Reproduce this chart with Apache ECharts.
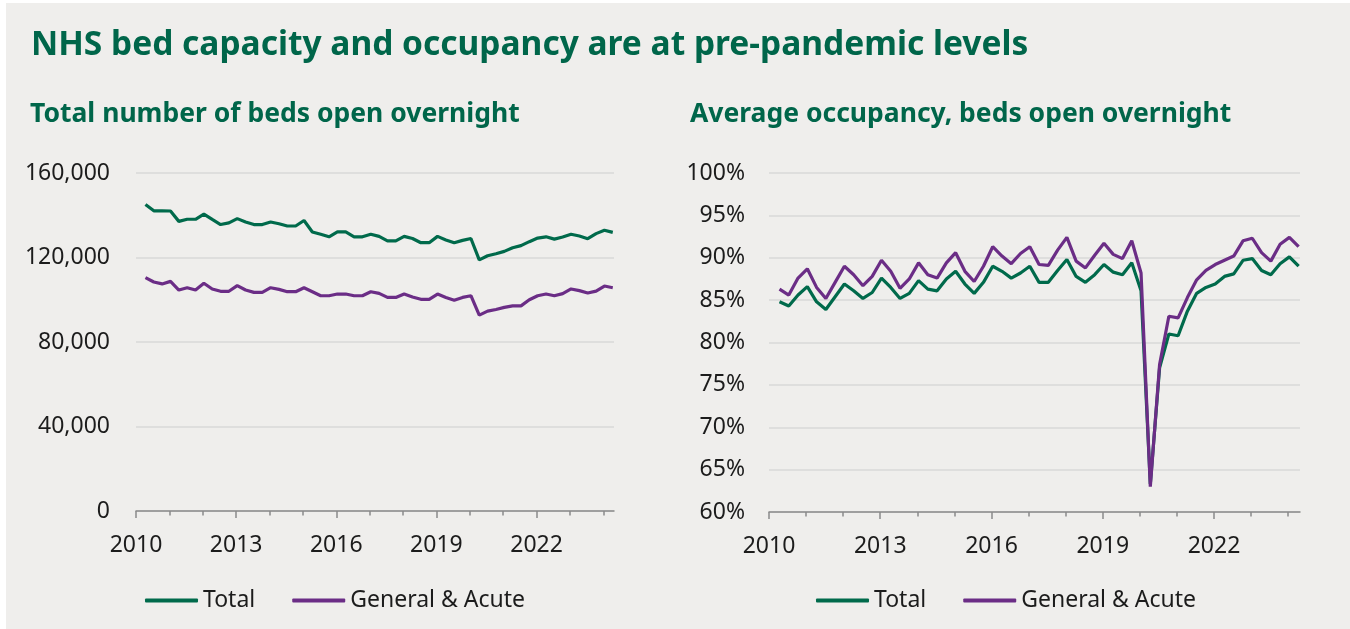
<!DOCTYPE html>
<html>
<head>
<meta charset="utf-8">
<script src="https://cdn.jsdelivr.net/npm/echarts@6/dist/echarts.min.js"></script>
<style>
  html, body { margin: 0; padding: 0; background: #ffffff; }
  #chart { width: 1350px; height: 629px; }
</style>
</head>
<body>
<div id="chart"></div>
<script>
// quarterly periods (start month of each NHS quarter), Apr 2010 .. Apr 2024
const periods = []
for (let y = 2010; y <= 2024; y++) {
    ['04', '07', '10'].forEach(m => periods.push(y + '-' + m))
    if (y < 2024) periods.push((y + 1) + '-01')
}
periods.sort()
while (periods.length > 57) periods.pop()

// total number of beds open overnight
const bedsTotal = [145100, 142100, 142100, 142000, 137100, 138100, 138100, 140500, 138000, 135600,
    136400, 138400, 136800, 135600, 135600, 136800, 136000, 134900, 134900, 137500,
    132100, 131000, 129800, 132100, 132100, 129800, 129800, 131000, 130000, 127900,
    127900, 130000, 129000, 127000, 127000, 130000, 128300, 127000, 128100, 129000,
    118900, 120800, 121800, 122900, 124600, 125600, 127500, 129200, 129800, 128700,
    129700, 131000, 130200, 128900, 131300, 132900, 131900]
const bedsGA = [110500, 108400, 107500, 108700, 104600, 105700, 104600, 107800, 105100, 104000,
    104000, 106700, 104600, 103500, 103500, 105700, 104900, 103800, 103800, 105700,
    103800, 101900, 101900, 102700, 102700, 101900, 101900, 103800, 103000, 101100,
    101100, 102700, 101300, 100200, 100200, 102700, 101100, 99800, 101100, 101900,
    92700, 94600, 95400, 96400, 97100, 97100, 100000, 101900, 102700, 101900,
    102900, 105100, 104300, 103200, 104100, 106500, 105700]

// average occupancy (%)
const occTotal = [84.8, 84.3, 85.6, 86.6, 84.8, 83.9, 85.4, 86.9, 86.1, 85.2,
    85.9, 87.6, 86.5, 85.2, 85.8, 87.3, 86.3, 86.1, 87.5, 88.4,
    86.9, 85.8, 87.1, 89.0, 88.4, 87.6, 88.2, 89.0, 87.1, 87.1,
    88.5, 89.8, 87.8, 87.1, 88.0, 89.2, 88.3, 88.0, 89.4, 86.1,
    63.3, 77.0, 81.0, 80.8, 83.7, 85.8, 86.5, 86.9, 87.8, 88.1,
    89.7, 89.9, 88.5, 88.0, 89.3, 90.1, 89.0]
const occGA = [86.3, 85.6, 87.6, 88.7, 86.5, 85.2, 87.1, 89.0, 88.0, 86.7,
    87.8, 89.7, 88.4, 86.4, 87.5, 89.4, 88.0, 87.6, 89.4, 90.6,
    88.4, 87.2, 89.0, 91.3, 90.2, 89.3, 90.5, 91.3, 89.2, 89.1,
    90.9, 92.4, 89.6, 88.8, 90.3, 91.7, 90.4, 89.9, 92.0, 88.2,
    63.0, 77.4, 83.1, 82.9, 85.3, 87.4, 88.5, 89.2, 89.7, 90.2,
    92.0, 92.3, 90.6, 89.6, 91.6, 92.4, 91.3]

const yearLabels = [2010, 2013, 2016, 2019, 2022]
const yearTicks = [2010, 2011, 2012, 2013, 2014, 2015, 2016, 2017, 2018, 2019, 2020, 2021, 2022, 2023, 2024]
const bedsTicks = [0, 40000, 80000, 120000, 160000]
const occTicks = [60, 65, 70, 75, 80, 85, 90, 95, 100]

const GREEN = '#006a4b'
const PURPLE = '#6b2d86'
const TITLE = '#00664a'
const TEXT = '#1c1c1c'
const FONT = '"Noto Sans", "Open Sans", sans-serif'
const FS = 23

function xPos(p) {
    const [y, m] = p.split('-').map(Number)
    return y + (m - 1 + 0.4) / 12
}
function pairs(vals) {
    return vals.map((v, i) => [xPos(periods[i]), v])
}

function mainX(gridIndex) {
    return {
        type: 'value', gridIndex: gridIndex, position: 'bottom',
        min: 2010, max: 2024.32,
        axisLine: { show: true, lineStyle: { color: '#8a8a8a', width: 1.5 } },
        axisTick: { show: true, customValues: yearLabels, length: 7, lineStyle: { color: '#8a8a8a', width: 1.5 } },
        axisLabel: { customValues: yearLabels, color: TEXT, fontSize: FS, fontFamily: FONT, margin: 23, formatter: v => String(v) },
        splitLine: { show: false }
    }
}
function minorX(gridIndex) {
    return {
        type: 'value', gridIndex: gridIndex, position: 'bottom',
        min: 2010, max: 2024.32,
        axisLine: { show: false },
        axisTick: { show: true, customValues: yearTicks, length: 4.5, lineStyle: { color: '#8a8a8a', width: 1.5 } },
        axisLabel: { show: false },
        splitLine: { show: false }
    }
}

const chart = echarts.init(document.getElementById('chart'))
chart.setOption({
    backgroundColor: '#ffffff',
    animation: false,
    graphic: [{
        type: 'rect', z: -10, silent: true,
        shape: { x: 6, y: 3, width: 1344, height: 626 },
        style: { fill: '#efeeec' }
    }],
    title: [
        { text: 'NHS bed capacity and occupancy are at pre-pandemic levels', left: 31, top: 27, padding: 0,
          textStyle: { color: TITLE, fontSize: 33.5, fontWeight: 'bold', fontFamily: FONT, lineHeight: 36 } },
        { text: 'Total number of beds open overnight', left: 30, top: 99, padding: 0,
          textStyle: { color: TITLE, fontSize: 26.5, fontWeight: 'bold', fontFamily: FONT, lineHeight: 30 } },
        { text: 'Average occupancy, beds open overnight', left: 690, top: 99, padding: 0,
          textStyle: { color: TITLE, fontSize: 26.5, fontWeight: 'bold', fontFamily: FONT, lineHeight: 30 } }
    ],
    legend: [
        { left: 145, top: 589, padding: 0, itemWidth: 53, itemHeight: 4, itemGap: 37, icon: 'roundRect',
          data: ['Total', 'General & Acute'], selectedMode: false,
          textStyle: { color: TEXT, fontSize: FS, fontFamily: FONT, padding: [0, 0, 0, 0] } },
        { left: 816, top: 589, padding: 0, itemWidth: 53, itemHeight: 4, itemGap: 37, icon: 'roundRect',
          data: ['Total', 'General & Acute'], selectedMode: false,
          textStyle: { color: TEXT, fontSize: FS, fontFamily: FONT, padding: [0, 0, 0, 0] } }
    ],
    grid: [
        { left: 136, top: 173, width: 478, height: 338 },
        { left: 769, top: 173, width: 531, height: 339 }
    ],
    xAxis: [mainX(0), minorX(0), mainX(1), minorX(1)],
    yAxis: [
        {
            type: 'value', gridIndex: 0, min: 0, max: 160000, interval: 40000,
            axisLine: { show: false }, axisTick: { show: false },
            axisLabel: { customValues: bedsTicks, color: TEXT, fontSize: FS, fontFamily: FONT, margin: 26,
                formatter: v => v.toLocaleString('en-GB') },
            splitLine: { lineStyle: { color: '#d9d9d9', width: 1.5 } }
        },
        {
            type: 'value', gridIndex: 1, min: 60, max: 100, interval: 5,
            axisLine: { show: false }, axisTick: { show: false },
            axisLabel: { customValues: occTicks, color: TEXT, fontSize: FS, fontFamily: FONT, margin: 24,
                formatter: v => v + '%' },
            splitLine: { lineStyle: { color: '#d9d9d9', width: 1.5 } }
        }
    ],
    series: [
        { name: 'Total', type: 'line', xAxisIndex: 0, yAxisIndex: 0, data: pairs(bedsTotal),
          showSymbol: false, color: GREEN, lineStyle: { width: 3.2, color: GREEN } },
        { name: 'General & Acute', type: 'line', xAxisIndex: 0, yAxisIndex: 0, data: pairs(bedsGA),
          showSymbol: false, color: PURPLE, lineStyle: { width: 3.2, color: PURPLE } },
        { name: 'Total', type: 'line', xAxisIndex: 2, yAxisIndex: 1, data: pairs(occTotal),
          showSymbol: false, color: GREEN, lineStyle: { width: 3.2, color: GREEN } },
        { name: 'General & Acute', type: 'line', xAxisIndex: 2, yAxisIndex: 1, data: pairs(occGA),
          showSymbol: false, color: PURPLE, lineStyle: { width: 3.2, color: PURPLE } }
    ]
})
</script>
</body>
</html>
